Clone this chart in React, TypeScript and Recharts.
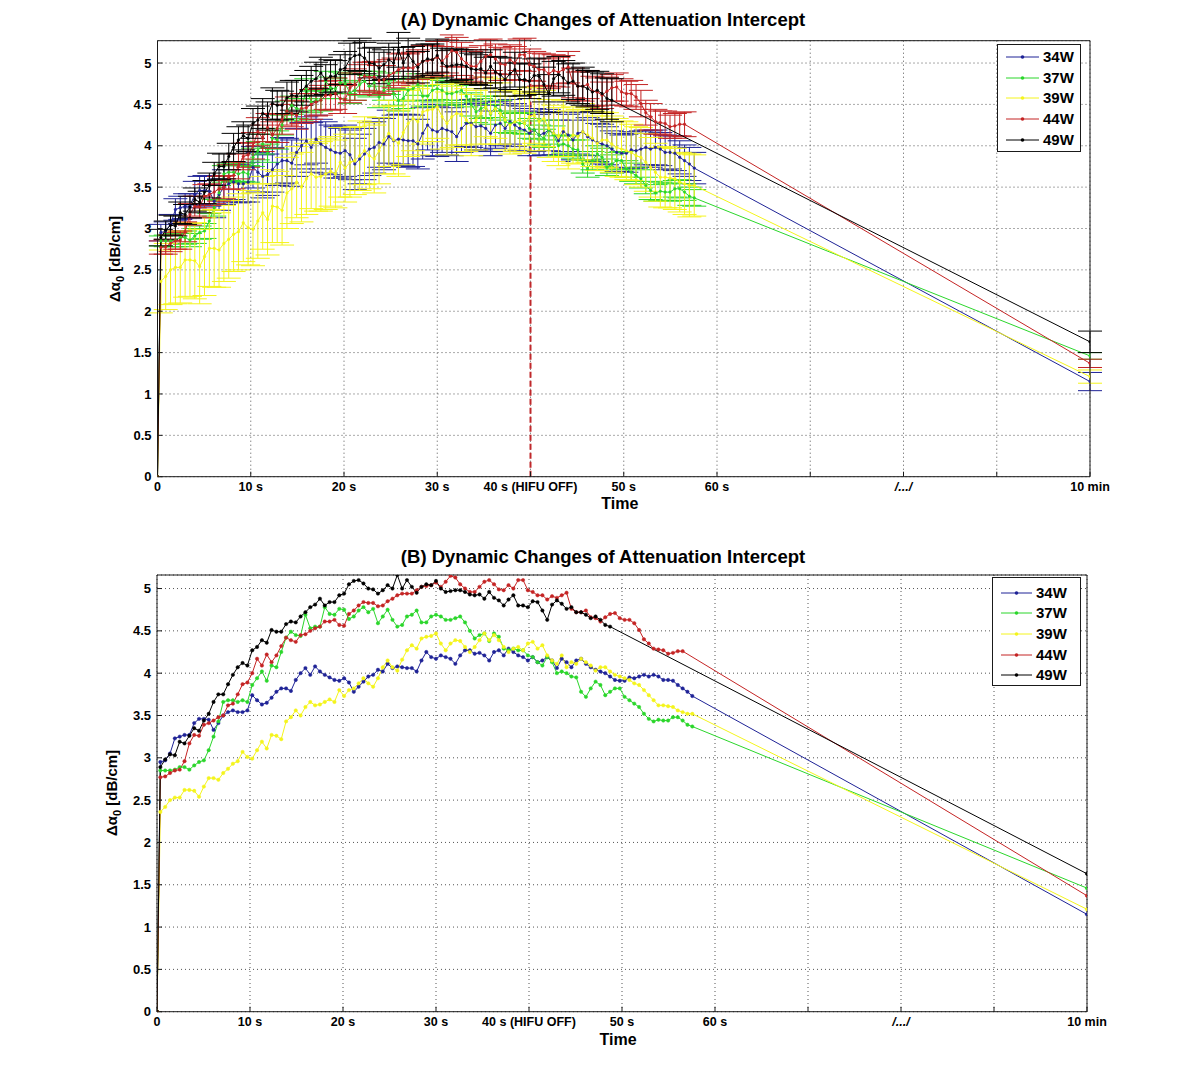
import React from 'react';
import { LineChart, Line, XAxis, YAxis, CartesianGrid, ErrorBar } from 'recharts';

const FONT = '"Liberation Sans", Arial, Helvetica, sans-serif';

// Sample times (s) of the recorded frames
const TIME_S = [
  0.36, 0.88, 1.4, 1.92, 2.44, 2.96, 3.48, 4.0, 4.52, 5.04,
  5.56, 6.08, 6.6, 7.12, 7.64, 8.16, 8.68, 9.2, 9.72, 10.24,
  10.76, 11.28, 11.8, 12.32, 12.84, 13.36, 13.88, 14.4, 14.92, 15.44,
  15.96, 16.48, 17.0, 17.52, 18.04, 18.56, 19.08, 19.6, 20.12, 20.64,
  21.16, 21.68, 22.2, 22.72, 23.24, 23.76, 24.28, 24.8, 25.32, 25.84,
  26.36, 26.88, 27.4, 27.92, 28.44, 28.96, 29.48, 30.0, 30.52, 31.04,
  31.56, 32.08, 32.6, 33.12, 33.64, 34.16, 34.68, 35.2, 35.72, 36.24,
  36.76, 37.28, 37.8, 38.32, 38.84, 39.36, 39.88, 40.4, 40.92, 41.44,
  41.96, 42.48, 43.0, 43.52, 44.04, 44.56, 45.08, 45.6, 46.12, 46.64,
  47.16, 47.68, 48.2, 48.72, 49.24, 49.76, 50.28, 50.8, 51.32, 51.84,
  52.36, 52.88, 53.4, 53.92, 54.44, 54.96, 55.48, 56.0, 56.52, 57.04, 57.56,
];

// axis position used for the "10 min" measurement
const TEN_MIN_X = 100;
const HIFU_OFF_X = 40;

const XTICKS = [0, 10, 20, 30, 40, 50, 60, 70, 80, 90, 100];
const XTICK_LABELS = ['0', '10 s', '20 s', '30 s', '40 s (HIFU OFF)', '50 s', '60 s', '', '/.../', '', '10 min'];
const YTICKS = [0, 0.5, 1, 1.5, 2, 2.5, 3, 3.5, 4, 4.5, 5];
const YTICK_LABELS = ['0', '0.5', '1', '1.5', '2', '2.5', '3', '3.5', '4', '4.5', '5'];

// 34W
const W34_MEAN = [
  2.95, 2.97, 3.05, 3.23, 3.25, 3.27, 3.27, 3.41, 3.46, 3.46,
  3.45, 3.33, 3.41, 3.5, 3.54, 3.56, 3.54, 3.54, 3.56, 3.74,
  3.68, 3.63, 3.65, 3.71, 3.78, 3.82, 3.82, 3.79, 3.92, 4.0,
  4.06, 3.98, 4.08, 4.02, 3.98, 3.95, 3.92, 3.91, 3.94, 3.89,
  3.78, 3.84, 3.9, 3.96, 3.98, 4.04, 4.02, 4.11, 4.06, 4.08,
  4.07, 4.06, 4.06, 4.02, 4.15, 4.25, 4.19, 4.17, 4.21, 4.19,
  4.17, 4.11, 4.21, 4.27, 4.27, 4.23, 4.24, 4.21, 4.15, 4.25,
  4.27, 4.21, 4.29, 4.25, 4.21, 4.19, 4.15, 4.19, 4.13, 4.15,
  4.19, 4.15, 4.06, 4.17, 4.13, 4.07, 4.15, 4.17, 4.11, 4.07,
  4.04, 4.02, 4.0, 3.96, 3.92, 3.91, 3.91, 3.95, 3.94, 3.96,
  3.98, 3.96, 3.98, 3.96, 3.92, 3.92, 3.91, 3.86, 3.82, 3.78, 3.73,
];
const W34_STD = [
  0.1, 0.11, 0.12, 0.13, 0.14, 0.15, 0.15, 0.16, 0.17, 0.18,
  0.18, 0.2, 0.19, 0.21, 0.22, 0.21, 0.23, 0.22, 0.24, 0.25,
  0.24, 0.26, 0.25, 0.27, 0.26, 0.28, 0.27, 0.28, 0.29, 0.28,
  0.29, 0.3, 0.29, 0.3, 0.31, 0.3, 0.31, 0.3, 0.31, 0.3,
  0.31, 0.3, 0.31, 0.32, 0.31, 0.3, 0.31, 0.32, 0.31, 0.3,
  0.31, 0.32, 0.31, 0.3, 0.31, 0.3, 0.31, 0.3, 0.29, 0.3,
  0.29, 0.3, 0.29, 0.28, 0.29, 0.28, 0.29, 0.28, 0.27, 0.28,
  0.27, 0.28, 0.27, 0.26, 0.27, 0.26, 0.27, 0.26, 0.25, 0.26,
  0.25, 0.26, 0.25, 0.24, 0.25, 0.24, 0.25, 0.24, 0.23, 0.24,
  0.23, 0.24, 0.23, 0.22, 0.23, 0.22, 0.23, 0.22, 0.21, 0.22,
  0.21, 0.22, 0.21, 0.2, 0.21, 0.2, 0.21, 0.2, 0.19, 0.2, 0.19,
];

// 37W
const W37_MEAN = [
  2.85, 2.85, 2.85, 2.86, 2.89, 2.89, 2.86, 2.91, 2.95, 2.97,
  3.09, 3.25, 3.43, 3.66, 3.68, 3.68, 3.66, 3.68, 3.66, 3.86,
  3.94, 4.02, 3.91, 4.09, 4.07, 4.25, 4.42, 4.49, 4.45, 4.44,
  4.69, 4.53, 4.55, 4.55, 4.78, 4.7, 4.69, 4.76, 4.75, 4.64,
  4.67, 4.74, 4.78, 4.72, 4.76, 4.59, 4.67, 4.75, 4.63, 4.55,
  4.57, 4.67, 4.69, 4.74, 4.6, 4.6, 4.67, 4.69, 4.67, 4.63,
  4.63, 4.65, 4.67, 4.6, 4.5, 4.41, 4.45, 4.47, 4.38, 4.47,
  4.43, 4.29, 4.27, 4.29, 4.27, 4.27, 4.21, 4.19, 4.13, 4.09,
  4.19, 4.13, 4.0, 4.02, 4.0, 3.96, 3.95, 3.78, 3.72, 3.82,
  3.9, 3.86, 3.74, 3.78, 3.82, 3.82, 3.72, 3.68, 3.64, 3.6,
  3.52, 3.46, 3.43, 3.45, 3.44, 3.44, 3.48, 3.48, 3.44, 3.39, 3.37,
];
const W37_STD = [
  0.06, 0.07, 0.07, 0.08, 0.07, 0.08, 0.08, 0.09, 0.08, 0.09,
  0.09, 0.1, 0.09, 0.1, 0.1, 0.11, 0.1, 0.11, 0.1, 0.11,
  0.11, 0.12, 0.11, 0.12, 0.11, 0.12, 0.12, 0.11, 0.12, 0.13,
  0.12, 0.13, 0.12, 0.13, 0.12, 0.13, 0.12, 0.13, 0.12, 0.13,
  0.12, 0.13, 0.12, 0.13, 0.14, 0.13, 0.12, 0.13, 0.14, 0.13,
  0.12, 0.13, 0.14, 0.13, 0.12, 0.13, 0.14, 0.13, 0.12, 0.13,
  0.14, 0.13, 0.12, 0.13, 0.14, 0.13, 0.12, 0.13, 0.12, 0.13,
  0.12, 0.13, 0.12, 0.11, 0.12, 0.13, 0.12, 0.11, 0.12, 0.11,
  0.12, 0.11, 0.12, 0.11, 0.12, 0.11, 0.12, 0.11, 0.1, 0.11,
  0.1, 0.11, 0.1, 0.11, 0.1, 0.11, 0.1, 0.11, 0.1, 0.11,
  0.1, 0.11, 0.1, 0.11, 0.1, 0.11, 0.1, 0.11, 0.1, 0.11, 0.1,
];

// 39W
const W39_MEAN = [
  2.36, 2.42, 2.5, 2.53, 2.53, 2.62, 2.62, 2.61, 2.54, 2.66,
  2.76, 2.76, 2.74, 2.82, 2.87, 2.93, 2.96, 3.07, 3.01, 2.99,
  3.09, 3.19, 3.11, 3.27, 3.26, 3.22, 3.43, 3.48, 3.56, 3.5,
  3.6, 3.66, 3.62, 3.63, 3.66, 3.69, 3.66, 3.8, 3.73, 3.8,
  3.82, 3.88, 3.94, 3.88, 3.84, 3.94, 4.07, 4.15, 4.07, 4.03,
  4.16, 4.27, 4.33, 4.29, 4.41, 4.43, 4.44, 4.47, 4.35, 4.27,
  4.35, 4.39, 4.38, 4.31, 4.25, 4.31, 4.39, 4.47, 4.39, 4.45,
  4.39, 4.31, 4.25, 4.29, 4.31, 4.27, 4.35, 4.37, 4.29, 4.33,
  4.21, 4.15, 4.11, 4.21, 4.07, 4.13, 4.11, 4.17, 4.13, 4.09,
  4.03, 4.07, 4.07, 4.02, 3.98, 3.96, 3.94, 3.92, 3.88, 3.86,
  3.8, 3.74, 3.68, 3.62, 3.62, 3.61, 3.6, 3.56, 3.54, 3.52, 3.52,
];
const W39_STD = [
  0.38, 0.4, 0.42, 0.44, 0.43, 0.45, 0.44, 0.46, 0.45, 0.47,
  0.46, 0.47, 0.45, 0.46, 0.47, 0.45, 0.46, 0.47, 0.45, 0.44,
  0.45, 0.44, 0.43, 0.44, 0.43, 0.42, 0.43, 0.42, 0.43, 0.42,
  0.43, 0.42, 0.41, 0.42, 0.43, 0.42, 0.41, 0.42, 0.41, 0.42,
  0.41, 0.42, 0.41, 0.4, 0.41, 0.4, 0.41, 0.4, 0.41, 0.4,
  0.39, 0.4, 0.39, 0.4, 0.39, 0.38, 0.39, 0.38, 0.39, 0.38,
  0.37, 0.38, 0.37, 0.38, 0.37, 0.36, 0.37, 0.36, 0.37, 0.36,
  0.37, 0.36, 0.35, 0.36, 0.35, 0.36, 0.35, 0.34, 0.35, 0.34,
  0.35, 0.34, 0.35, 0.34, 0.35, 0.34, 0.33, 0.34, 0.33, 0.34,
  0.33, 0.34, 0.33, 0.34, 0.35, 0.34, 0.35, 0.34, 0.35, 0.36,
  0.35, 0.36, 0.35, 0.36, 0.37, 0.36, 0.37, 0.36, 0.37, 0.38, 0.37,
];

// 44W
const W44_MEAN = [
  2.77, 2.78, 2.82, 2.85, 2.86, 2.96, 3.17, 3.27, 3.26, 3.39,
  3.41, 3.44, 3.48, 3.5, 3.62, 3.64, 3.75, 3.87, 3.89, 4.0,
  4.17, 4.09, 4.22, 4.13, 4.21, 4.32, 4.42, 4.39, 4.37, 4.45,
  4.46, 4.5, 4.53, 4.55, 4.61, 4.61, 4.63, 4.57, 4.56, 4.7,
  4.74, 4.8, 4.84, 4.83, 4.83, 4.79, 4.8, 4.85, 4.88, 4.92,
  4.94, 4.94, 4.94, 4.98, 5.02, 5.03, 5.04, 5.07, 5.02, 5.08,
  5.15, 5.13, 5.05, 5.0, 4.96, 4.96, 5.02, 5.08, 5.1, 5.05,
  4.99, 4.98, 5.04, 5.0, 5.1, 5.1, 4.98, 4.96, 4.92, 4.92,
  4.87, 4.91, 4.89, 4.92, 4.95, 4.76, 4.72, 4.72, 4.74, 4.66,
  4.65, 4.61, 4.66, 4.7, 4.71, 4.65, 4.63, 4.63, 4.59, 4.51,
  4.4, 4.35, 4.29, 4.28, 4.27, 4.23, 4.24, 4.26, 4.26,
];
const W44_STD = [
  0.08, 0.09, 0.1, 0.1, 0.11, 0.12, 0.13, 0.12, 0.13, 0.14,
  0.13, 0.14, 0.15, 0.14, 0.15, 0.16, 0.15, 0.16, 0.15, 0.16,
  0.17, 0.16, 0.17, 0.16, 0.17, 0.18, 0.17, 0.16, 0.17, 0.18,
  0.17, 0.18, 0.17, 0.18, 0.17, 0.18, 0.19, 0.18, 0.17, 0.18,
  0.19, 0.18, 0.17, 0.18, 0.19, 0.18, 0.17, 0.19, 0.18, 0.19,
  0.18, 0.17, 0.19, 0.18, 0.19, 0.18, 0.17, 0.19, 0.18, 0.2,
  0.19, 0.18, 0.2, 0.19, 0.18, 0.2, 0.19, 0.2, 0.19, 0.18,
  0.2, 0.19, 0.18, 0.2, 0.19, 0.2, 0.19, 0.18, 0.2, 0.19,
  0.18, 0.19, 0.18, 0.17, 0.19, 0.18, 0.17, 0.18, 0.17, 0.18,
  0.17, 0.16, 0.17, 0.16, 0.17, 0.16, 0.15, 0.16, 0.15, 0.16,
  0.15, 0.16, 0.15, 0.14, 0.15, 0.14, 0.15, 0.14, 0.15,
];

// 49W
const W49_MEAN = [
  2.89, 2.98, 3.04, 3.03, 3.19, 3.17, 3.26, 3.35, 3.32, 3.44,
  3.52, 3.66, 3.75, 3.75, 3.87, 3.98, 4.07, 4.12, 4.09, 4.27,
  4.31, 4.39, 4.36, 4.51, 4.49, 4.49, 4.58, 4.61, 4.6, 4.67,
  4.72, 4.78, 4.81, 4.88, 4.8, 4.84, 4.84, 4.92, 4.94, 5.05,
  5.09, 5.1, 5.06, 5.0, 4.99, 4.94, 4.98, 5.04, 5.0, 5.16,
  5.0, 5.1, 5.02, 4.95, 5.02, 5.05, 5.04, 5.09, 5.0, 4.96,
  4.97, 4.98, 4.98, 4.96, 4.93, 4.92, 4.93, 4.88, 4.96, 4.89,
  4.86, 4.8, 4.87, 4.92, 4.8, 4.8, 4.78, 4.85, 4.84, 4.74,
  4.63, 4.81, 4.86, 4.82, 4.76, 4.78, 4.72, 4.72, 4.69, 4.65,
  4.67, 4.63, 4.57, 4.55,
];
const W49_STD = [
  0.1, 0.11, 0.12, 0.12, 0.13, 0.12, 0.13, 0.14, 0.13, 0.14,
  0.15, 0.14, 0.16, 0.15, 0.16, 0.17, 0.16, 0.17, 0.16, 0.18,
  0.17, 0.18, 0.17, 0.19, 0.18, 0.17, 0.19, 0.18, 0.19, 0.18,
  0.19, 0.18, 0.2, 0.19, 0.18, 0.2, 0.19, 0.18, 0.2, 0.19,
  0.18, 0.2, 0.19, 0.18, 0.2, 0.19, 0.18, 0.2, 0.19, 0.21,
  0.19, 0.2, 0.18, 0.19, 0.2, 0.18, 0.19, 0.2, 0.18, 0.19,
  0.2, 0.19, 0.18, 0.2, 0.19, 0.18, 0.2, 0.19, 0.2, 0.19,
  0.21, 0.2, 0.19, 0.21, 0.2, 0.19, 0.21, 0.2, 0.22, 0.21,
  0.23, 0.21, 0.22, 0.21, 0.23, 0.22, 0.21, 0.23, 0.22, 0.24,
  0.23, 0.24, 0.25, 0.26,
];

// value measured at 10 min, with its spread
const TEN_MIN_MEAN = { w34: 1.15, w37: 1.46, w39: 1.21, w44: 1.37, w49: 1.63 };
const TEN_MIN_STD = { w34: 0.11, w37: 0.04, w39: 0.08, w44: 0.05, w49: 0.13 };

type Pt = { t: number; v: number; e: number };

function buildPoints(mean: number[], std: number[], tenMin: number, tenMinStd: number): Pt[] {
  const pts: Pt[] = [{ t: 0, v: 0, e: 0 }];
  mean.forEach((v, i) => pts.push({ t: TIME_S[i], v, e: std[i] }));
  pts.push({ t: TEN_MIN_X, v: tenMin, e: tenMinStd });
  return pts;
}

const SERIES = [
  { name: '34W', color: '#1f2396', data: buildPoints(W34_MEAN, W34_STD, TEN_MIN_MEAN.w34, TEN_MIN_STD.w34) },
  { name: '37W', color: '#2bd62b', data: buildPoints(W37_MEAN, W37_STD, TEN_MIN_MEAN.w37, TEN_MIN_STD.w37) },
  { name: '39W', color: '#f4f41c', data: buildPoints(W39_MEAN, W39_STD, TEN_MIN_MEAN.w39, TEN_MIN_STD.w39) },
  { name: '44W', color: '#c42424', data: buildPoints(W44_MEAN, W44_STD, TEN_MIN_MEAN.w44, TEN_MIN_STD.w44) },
  { name: '49W', color: '#000000', data: buildPoints(W49_MEAN, W49_STD, TEN_MIN_MEAN.w49, TEN_MIN_STD.w49) },
];

const HIFU_LINE = [
  { t: HIFU_OFF_X, v: 0 },
  { t: HIFU_OFF_X, v: 4.8 },
];

const XTick = (props: any) => {
  const { x, y, payload } = props;
  const idx = XTICKS.indexOf(payload.value);
  const label = idx >= 0 ? XTICK_LABELS[idx] : '';
  return (
    <text
      x={x}
      y={y}
      dy="0.72em"
      textAnchor="middle"
      fontFamily={FONT}
      fontWeight="bold"
      fontSize={12.5}
      fontStyle={label === '/.../' ? 'italic' : 'normal'}
      fill="#000"
    >
      {label}
    </text>
  );
};

type PanelCfg = {
  letter: string;
  top: number;
  plotLeft: number;
  plotRight: number;
  plotTop: number;
  plotBottom: number;
  yMax: number;
  errors: boolean;
  legend: { left: number; top: number; width: number; height: number; rows: number[]; lineX1: number; lineX2: number; textX: number };
  titleY: number;
  timeY: number;
  yLabelX: number;
};

const PANELS: PanelCfg[] = [
  {
    letter: 'A', top: 0, plotLeft: 157.5, plotRight: 1090, plotTop: 40.7, plotBottom: 476.7, yMax: 5.27, errors: true,
    legend: { left: 997, top: 44, width: 84, height: 108, rows: [12, 32.5, 53, 74, 95], lineX1: 8, lineX2: 41, textX: 45 },
    titleY: 20, timeY: 504, yLabelX: 116,
  },
  {
    letter: 'B', top: 540, plotLeft: 157, plotRight: 1087, plotTop: 35, plotBottom: 471.7, yMax: 5.16, errors: false,
    legend: { left: 992, top: 577, width: 89, height: 109, rows: [15, 35, 56, 77, 97], lineX1: 8, lineX2: 39, textX: 43 },
    titleY: 557, timeY: 1040, yLabelX: 113,
  },
];

const CH = 540;
const YAXIS_W = 50;
const XAXIS_H = 40;

function Panel({ cfg }: { cfg: PanelCfg }) {
  const margin = {
    left: cfg.plotLeft - YAXIS_W,
    right: 1200 - cfg.plotRight - 1,
    top: cfg.plotTop - 1,
    bottom: CH - cfg.plotBottom - XAXIS_H,
  };
  const axisStroke = '#1a1a1a';
  const plotCenter = (cfg.plotTop + cfg.plotBottom) / 2 + cfg.top;
  return (
    <>
      <div style={{ position: 'absolute', left: 0, top: cfg.top, width: 1200, height: CH }}>
        <LineChart width={1200} height={CH} margin={margin}>
          <CartesianGrid stroke="#555" strokeDasharray="1 3" strokeWidth={1} />
          <XAxis
            xAxisId={0}
            type="number"
            dataKey="t"
            domain={[0, 100]}
            ticks={XTICKS}
            interval={0}
            allowDataOverflow
            height={XAXIS_H}
            tickSize={-5}
            tickMargin={10.5}
            stroke={axisStroke}
            tick={<XTick />}
          />
          <XAxis
            xAxisId="top"
            orientation="top"
            type="number"
            domain={[0, 100]}
            ticks={XTICKS}
            interval={0}
            allowDataOverflow
            height={1}
            tickSize={-5}
            tick={false}
            stroke={axisStroke}
          />
          <YAxis
            yAxisId={0}
            type="number"
            domain={[0, cfg.yMax]}
            ticks={YTICKS}
            interval={0}
            allowDataOverflow
            width={YAXIS_W}
            tickSize={-5}
            tickMargin={11}
            stroke={axisStroke}
            tickFormatter={(v: number) => YTICK_LABELS[YTICKS.indexOf(v)] ?? ''}
            tick={{ fontFamily: FONT, fontWeight: 'bold', fontSize: 13, fill: '#000' }}
          />
          <YAxis
            yAxisId="right"
            orientation="right"
            type="number"
            domain={[0, cfg.yMax]}
            ticks={YTICKS}
            interval={0}
            allowDataOverflow
            width={1}
            tickSize={-5}
            tick={false}
            stroke={axisStroke}
          />
          {cfg.errors && (
            <Line
              data={HIFU_LINE}
              dataKey="v"
              stroke="#c0282b"
              strokeWidth={2}
              strokeDasharray="6 3"
              dot={false}
              isAnimationActive={false}
              legendType="none"
            />
          )}
          {SERIES.map((s) => (
            <Line
              key={s.name}
              name={s.name}
              data={s.data}
              dataKey="v"
              stroke={s.color}
              strokeWidth={1}
              dot={{ r: cfg.errors ? 1.3 : 1.7, fill: s.color, stroke: s.color, strokeWidth: 0.5 }}
              activeDot={false}
              isAnimationActive={false}
            >
              {cfg.errors && (
                <ErrorBar dataKey="e" direction="y" width={12} stroke={s.color} strokeWidth={1} isAnimationActive={false} />
              )}
            </Line>
          ))}
        </LineChart>
      </div>
      <div
        style={{
          position: 'absolute', left: 603, top: cfg.titleY, transform: 'translate(-50%, -50%)',
          fontFamily: FONT, fontWeight: 'bold', fontSize: 18.5, whiteSpace: 'nowrap', color: '#000',
        }}
      >
        ({cfg.letter}) Dynamic Changes of Attenuation Intercept
      </div>
      <div
        style={{
          position: 'absolute', left: (cfg.plotLeft + cfg.plotRight) / 2 - 4, top: cfg.timeY, transform: 'translate(-50%, -50%)',
          fontFamily: FONT, fontWeight: 'bold', fontSize: 16, whiteSpace: 'nowrap', color: '#000',
        }}
      >
        Time
      </div>
      <div
        style={{
          position: 'absolute', left: cfg.yLabelX, top: plotCenter, transform: 'translate(-50%, -50%) rotate(-90deg)',
          fontFamily: FONT, fontWeight: 'bold', fontSize: 15, whiteSpace: 'nowrap', color: '#000',
        }}
      >
        Δα<sub style={{ fontSize: 11 }}>0</sub> [dB/cm]
      </div>
      <div
        style={{
          position: 'absolute', left: cfg.legend.left, top: cfg.legend.top, width: cfg.legend.width, height: cfg.legend.height,
          border: '1px solid #1a1a1a', background: '#fff', boxSizing: 'border-box',
        }}
      >
        {SERIES.map((s, i) => (
          <div key={s.name} style={{ position: 'absolute', left: 0, top: cfg.legend.rows[i] - 10, height: 20, width: '100%' }}>
            <svg width={cfg.legend.textX} height={20} style={{ position: 'absolute', left: 0, top: 0 }}>
              <line x1={cfg.legend.lineX1} x2={cfg.legend.lineX2} y1={10} y2={10} stroke={s.color} strokeWidth={1} />
              <circle cx={(cfg.legend.lineX1 + cfg.legend.lineX2) / 2} cy={10} r={1.8} fill={s.color} />
            </svg>
            <span
              style={{
                position: 'absolute', left: cfg.legend.textX, top: 0, lineHeight: '20px',
                fontFamily: FONT, fontWeight: 'bold', fontSize: 15, color: '#000',
              }}
            >
              {s.name}
            </span>
          </div>
        ))}
      </div>
    </>
  );
}

export default function App() {
  return (
    <div style={{ position: 'absolute', left: 0, top: 0, width: 1200, height: 1080, background: '#fff', overflow: 'hidden' }}>
      {PANELS.map((p) => (
        <Panel key={p.letter} cfg={p} />
      ))}
    </div>
  );
}
